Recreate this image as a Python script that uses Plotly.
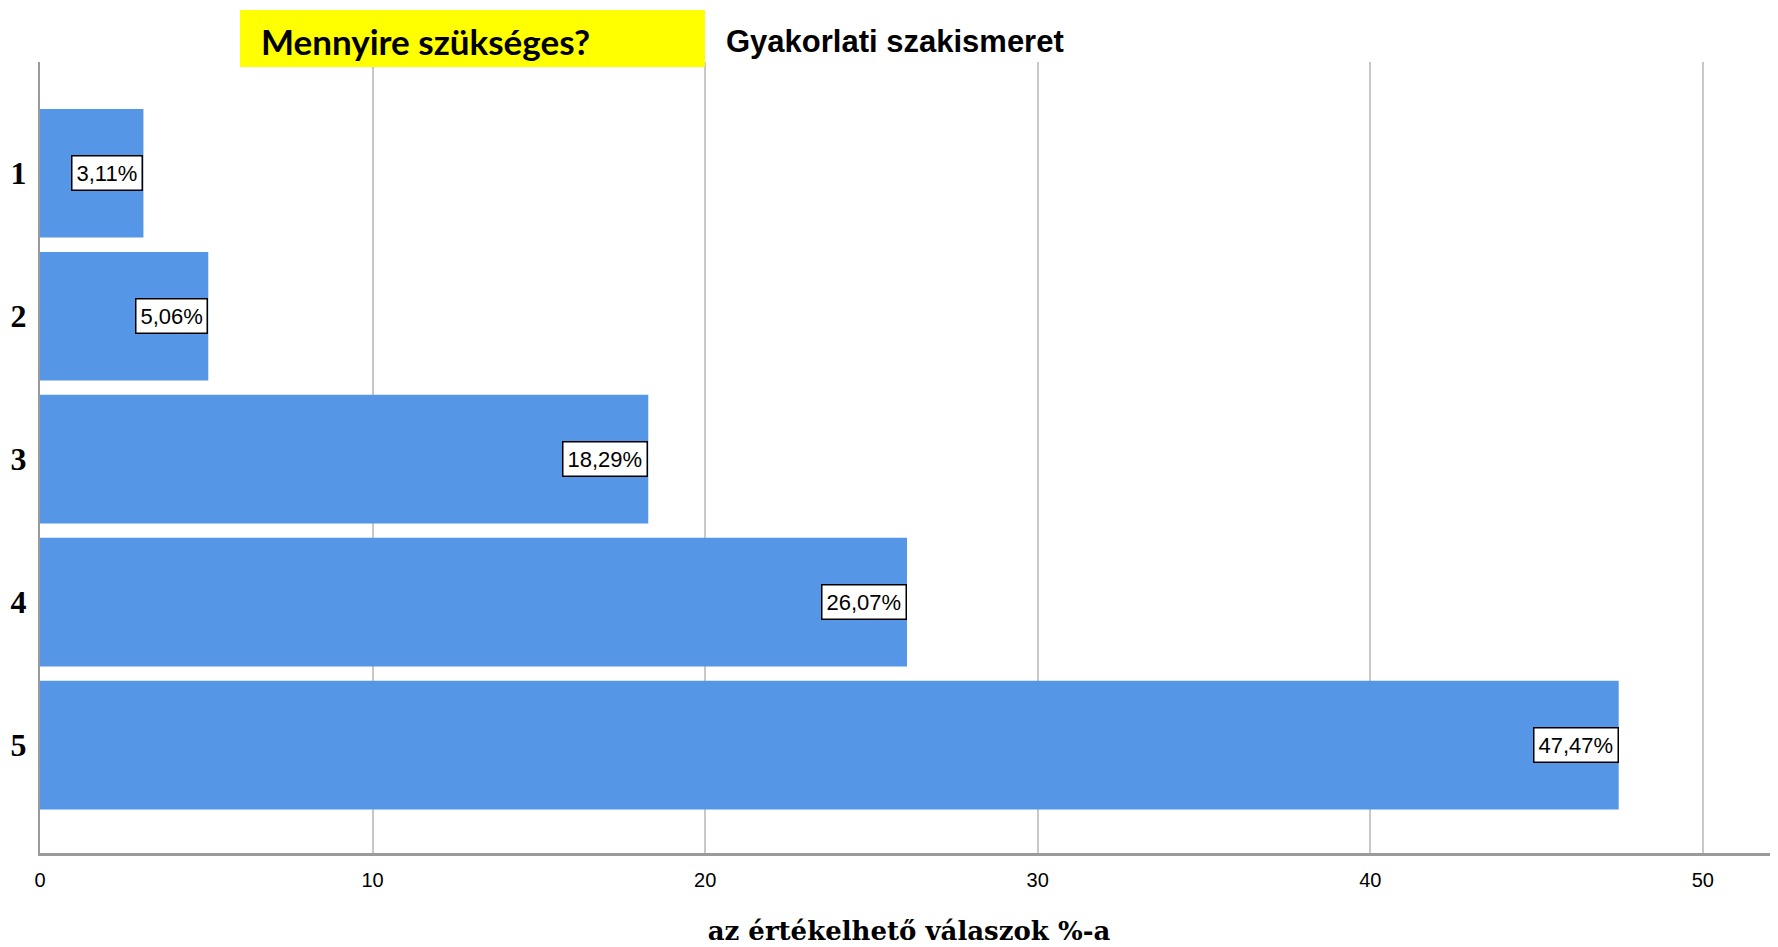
import plotly.graph_objects as go

categories = [1, 2, 3, 4, 5]
category_labels = ["1", "2", "3", "4", "5"]
percentages = [3.11, 5.06, 18.29, 26.07, 47.47]
x_ticks = [0, 10, 20, 30, 40, 50]

title_text = "Gyakorlati szakismeret"
question_text = "Mennyire szükséges?"
x_title = "az értékelhető válaszok %-a"

BAR_COLOR = "#5596E6"

fig = go.Figure()
fig.add_trace(go.Bar(
    x=percentages,
    y=categories,
    orientation="h",
    width=0.9,
    marker=dict(color=BAR_COLOR, line=dict(width=0)),
    hoverinfo="skip",
))

# value labels in boxes at the end of each bar
for val, cat in zip(percentages, categories):
    fig.add_annotation(
        x=val, y=cat, xref="x", yref="y",
        xanchor="right", yanchor="middle",
        text=f"{val:.2f}%".replace(".", ","),
        showarrow=False,
        font=dict(family="Liberation Sans, Arial, sans-serif", size=22, color="#000000"),
        bgcolor="#FFFFFF", bordercolor="#000000", borderwidth=1.5, borderpad=4,
    )

# yellow question box
fig.add_shape(
    type="rect", xref="paper", yref="paper",
    x0=0.1151, x1=0.3826, y0=0.9937, y1=1.0657,
    fillcolor="#FFFF00", line=dict(width=0), layer="above",
)
fig.add_annotation(
    x=0.1262, y=1.0265, xref="paper", yref="paper",
    xanchor="left", yanchor="middle", showarrow=False,
    text=f"<b>{question_text}</b>",
    font=dict(family="Lato, Open Sans, sans-serif", size=35, color="#000000"),
)
fig.add_annotation(
    x=0.3935, y=1.0253, xref="paper", yref="paper",
    xanchor="left", yanchor="middle", showarrow=False,
    text=f"<b>{title_text}</b>",
    font=dict(family="Liberation Sans, Arial, sans-serif", size=31, color="#000000"),
)

fig.update_layout(
    width=1770, height=939,
    margin=dict(l=32, r=0, t=54, b=94),
    paper_bgcolor="#FFFFFF", plot_bgcolor="#FFFFFF",
    showlegend=False,
    xaxis=dict(
        range=[0, 52.26],
        tickvals=x_ticks,
        ticktext=[str(t) for t in x_ticks],
        showgrid=True, gridcolor="#C8C8C8", gridwidth=1.5,
        zeroline=False,
        showline=True, linecolor="#9A9A9A", linewidth=3,
        ticks="", ticklabelstandoff=7,
        tickfont=dict(family="Liberation Sans, Arial, sans-serif", size=20, color="#000000"),
        title=dict(
            text=f"<b>{x_title}</b>",
            font=dict(family="DejaVu Serif, serif", size=26, color="#000000"),
            standoff=32,
        ),
        fixedrange=True,
    ),
    yaxis=dict(
        range=[5.754, 0.222],
        tickvals=categories,
        ticktext=[f"<b>{c}</b>" for c in category_labels],
        showgrid=False, zeroline=False,
        showline=True, linecolor="#9A9A9A", linewidth=2,
        ticks="", ticklabelstandoff=5,
        tickfont=dict(family="Liberation Serif, Times New Roman, serif", size=32, color="#000000"),
        fixedrange=True,
    ),
)

fig.write_html("out.html")
